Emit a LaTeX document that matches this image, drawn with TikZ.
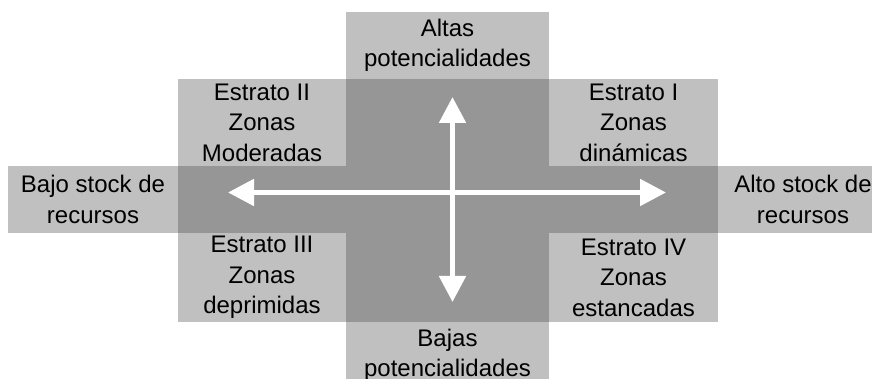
\documentclass[tikz,border=0pt]{standalone}
\usepackage{fontspec}
\setmainfont{Liberation Sans}
\usetikzlibrary{arrows.meta}
\definecolor{lightcell}{HTML}{C0C0C0}
\definecolor{darkcell}{HTML}{969696}
\tikzset{
  cell/.style={fill=lightcell, inner sep=0pt, align=center, text=black,
    font=\fontsize{24}{30.5}\selectfont},
  axis/.style={draw=white, line width=5pt,
    {Triangle[width=26pt,length=26pt]}-{Triangle[width=26pt,length=26pt]}}
}
\begin{document}
\begin{tikzpicture}[x=1pt,y=1pt]
\useasboundingbox (0,0) rectangle (872,379);
\clip (0,0) rectangle (872,379);
% dark cross
\fill[darkcell] (346,57) rectangle (549,300);
\fill[darkcell] (178,146) rectangle (718,213);
% cells
\node[cell, minimum width=203pt, minimum height=67pt] (top) at (447.5,333.5) {Altas\\potencialidades};
\node[cell, minimum width=168pt, minimum height=87pt] (e2) at (262,256.5) {Estrato II\\Zonas\\Moderadas};
\node[cell, minimum width=169pt, minimum height=87pt] (e1) at (633.5,256.5) {Estrato I\\Zonas\\dinámicas};
\node[cell, minimum width=170pt, minimum height=67pt] (left) at (93,179.5) {Bajo stock de\\recursos};
\node[cell, minimum width=170pt, minimum height=67pt] (right) at (803,179.5) {Alto stock de\\recursos};
\node[cell, minimum width=168pt, minimum height=89pt] (e3) at (262,101.5) {Estrato III\\Zonas\\deprimidas};
\node[cell, minimum width=169pt, minimum height=89pt] (e4) at (633.5,101.5) {Estrato IV\\Zonas\\estancadas};
\node[cell, minimum width=203pt, minimum height=67pt] (bottom) at (447.5,23.5) {Bajas\\potencialidades};
% axes
\coordinate (vt) at (452.5,282);
\coordinate (vb) at (452.5,77);
\coordinate (hl) at (228,186.5);
\coordinate (hr) at (666,186.5);
\draw[axis] (vb) -- (vt);
\draw[axis] (hl) -- (hr);
\end{tikzpicture}
\end{document}
